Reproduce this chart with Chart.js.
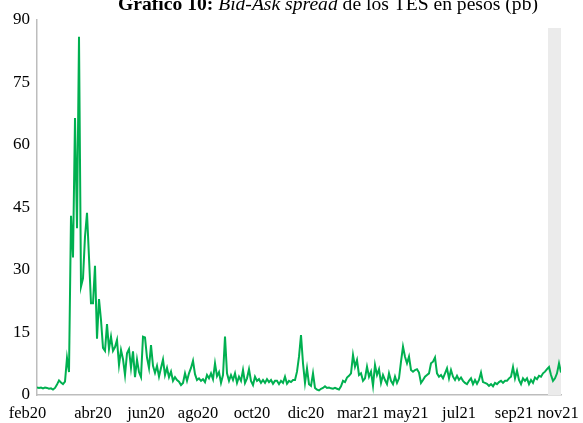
<!DOCTYPE html>
<html>
<head>
<meta charset="utf-8">
<script src="https://cdn.jsdelivr.net/npm/chart.js@4/dist/chart.umd.min.js"></script>
<style>
  html, body { margin: 0; padding: 0; background: #fff; }
  #wrap { width: 583px; height: 423px; }
</style>
</head>
<body>
<div id="wrap"><canvas id="chart" width="583" height="423"></canvas></div>
<script>
// bid-ask spread (pb), roughly every 2 trading days, feb20 - nov21
const spread = [
  1.8,1.7,1.8,1.6,1.8,1.7,1.5,1.6,1.3,1.7,
  2.5,3.5,3.0,2.6,3.2,8.9,5.5,43,33,66.5,
  40,86,26,28,38,43.7,33,22,22,31,
  13.5,23,18,11.3,10.6,17,11,14,10.6,11.5,
  13.2,7.2,10.8,8.6,4.8,10,11,6.5,10.5,4.3,
  8.5,5.5,4.3,14,13.8,9,6.5,12,7,5.3,
  7,4.4,6.5,8.5,4.8,6.5,4.3,5.6,3.4,4.3,
  3.6,3.2,2.4,2.9,5.2,3.4,5.2,6.5,8.2,5.0,
  3.6,4.0,3.4,3.8,3.1,4.8,4.0,5.2,3.8,7.6,
  4.5,5.5,2.9,4.8,14,5.2,3.4,4.8,3.6,5.2,
  2.9,4.4,3.4,6.0,2.9,4.0,6.2,3.4,2.4,4.4,
  3.4,3.8,2.9,3.6,2.9,3.8,3.1,3.6,2.7,3.4,
  3.4,2.6,3.4,2.9,4.4,2.7,3.4,3.1,3.6,3.6,
  5.6,9.2,14.4,7.6,2.9,6.4,2.6,2.2,5.2,1.7,
  1.3,1.1,1.5,1.7,2.1,1.7,1.8,1.6,1.5,1.7,
  1.5,1.3,2.1,3.4,3.1,4.2,4.6,5.2,9.6,6.8,
  8.4,4.8,5.2,3.4,4.0,6.8,4.4,5.6,2.2,7.2,
  4.8,6.2,2.9,4.8,3.6,2.6,5.2,3.4,2.6,4.4,
  2.9,4.0,8.0,11.6,9.2,7.6,9.2,6.0,5.6,6.0,
  6.2,5.4,2.9,3.6,4.4,4.8,5.2,7.6,8.0,9.0,
  5.2,4.4,4.8,4.0,5.2,6.4,4.0,6.0,4.4,3.6,
  4.6,3.6,4.2,3.4,2.9,2.6,3.4,4.0,2.6,3.6,
  2.7,3.6,5.4,3.1,2.9,2.7,2.2,2.6,2.1,2.9,
  2.6,3.1,3.4,2.9,3.4,3.4,4.0,4.4,6.7,4.0,
  5.8,3.6,2.6,4.0,3.4,4.0,2.6,3.6,2.9,4.2,
  3.8,4.6,4.4,5.2,5.6,6.2,6.7,4.8,3.4,4.0,
  5.2,7.6,5.4
];
const tickLabels = ['feb20','abr20','jun20','ago20','oct20','dic20','mar21','may21','jul21','sep21','nov21'];
// where each month label sits, in point index units
const tickIdx = [-4.75, 28, 54.5, 80.5, 107.5, 134.5, 160.5, 184.5, 211, 238.5, 260.5];
const yTicks = [0,15,30,45,60,75,90];
const shadeFrom = 255.5; // start of grey band (point index)

const serif = '"Liberation Serif", "Times New Roman", serif';

const shadePlugin = {
  id: 'shade',
  beforeDatasetsDraw(chart) {
    const {ctx, chartArea, scales} = chart;
    const x0 = scales.x.getPixelForValue(shadeFrom);
    ctx.save();
    ctx.fillStyle = '#ebebeb';
    ctx.fillRect(x0, chartArea.top + 8, chartArea.right - x0, chartArea.bottom - chartArea.top - 8);
    ctx.restore();
  }
};

const titlePlugin = {
  id: 'mixedTitle',
  afterDraw(chart) {
    const ctx = chart.ctx;
    const parts = [
      {t: 'Gráfico 10: ', f: 'bold 19.6px ' + serif},
      {t: 'Bid-Ask spread', f: 'italic 19.6px ' + serif},
      {t: ' de los TES en pesos (pb)', f: '19.6px ' + serif}
    ];
    ctx.save();
    let w = 0;
    parts.forEach(p => { ctx.font = p.f; p.w = ctx.measureText(p.t).width; w += p.w; });
    let x = 328 - w / 2;
    ctx.fillStyle = '#000';
    ctx.textBaseline = 'alphabetic';
    parts.forEach(p => { ctx.font = p.f; ctx.fillText(p.t, x, 9.5); x += p.w; });
    ctx.restore();
  }
};

new Chart(document.getElementById('chart'), {
  type: 'line',
  data: {
    datasets: [{
      data: spread.map((v, i) => ({x: i, y: v})),
      borderColor: '#00b050',
      borderWidth: 2,
      pointRadius: 0,
      tension: 0,
      fill: false
    }]
  },
  options: {
    responsive: false,
    animation: false,
    events: [],
    layout: {padding: {top: 20, right: 22, left: 0, bottom: 0}},
    plugins: {legend: {display: false}, tooltip: {enabled: false}, title: {display: false}},
    scales: {
      x: {
        type: 'linear',
        min: 0,
        max: spread.length - 1,
        grid: {display: false, drawTicks: false},
        border: {display: true, color: '#bdbdbd', width: 1.5},
        afterBuildTicks(axis) { axis.ticks = tickIdx.map(v => ({value: v})); },
        afterFit(axis) {
          axis.height = 28;
          axis.paddingLeft = 0;
          axis.paddingRight = 0;
        },
        ticks: {
          autoSkip: false,
          maxRotation: 0,
          padding: 9,
          color: '#000',
          font: {family: serif, size: 16.5},
          callback: v => tickLabels[tickIdx.indexOf(v)]
        }
      },
      y: {
        min: 0,
        max: 90,
        grid: {display: false, drawTicks: false},
        border: {display: true, color: '#bdbdbd', width: 1.5},
        afterBuildTicks(axis) { axis.ticks = yTicks.map(v => ({value: v})); },
        afterFit(axis) { axis.width = 37; },
        ticks: {
          padding: 7,
          color: '#000',
          font: {family: serif, size: 17}
        }
      }
    }
  },
  plugins: [shadePlugin, titlePlugin]
});
</script>
</body>
</html>
